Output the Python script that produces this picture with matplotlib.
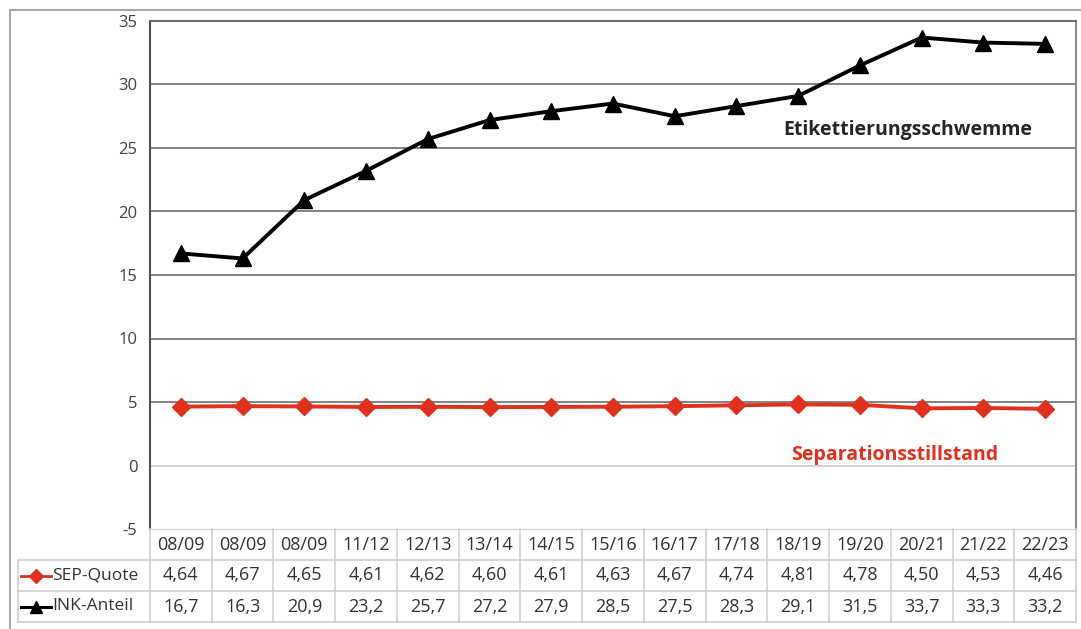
import matplotlib
matplotlib.use("Agg")
import matplotlib.pyplot as plt
from matplotlib.patches import Rectangle

plt.rcParams['font.family'] = ['Open Sans', 'DejaVu Sans']
plt.rcParams['axes.unicode_minus'] = False

# Saisons (Tabellenkopf) und Werte
seasons = ["08/09", "08/09", "08/09", "11/12", "12/13", "13/14", "14/15", "15/16",
           "16/17", "17/18", "18/19", "19/20", "20/21", "21/22", "22/23"]
sep_quote = [4.64, 4.67, 4.65, 4.61, 4.62, 4.60, 4.61, 4.63, 4.67, 4.74, 4.81, 4.78, 4.50, 4.53, 4.46]
ink_anteil = [16.7, 16.3, 20.9, 23.2, 25.7, 27.2, 27.9, 28.5, 27.5, 28.3, 29.1, 31.5, 33.7, 33.3, 33.2]
row_labels = ["SEP-Quote", "INK-Anteil"]
yticks = [-5, 0, 5, 10, 15, 20, 25, 30, 35]

RED = "#E0301E"
TXT = "#333333"
W, H = 1081, 629

def fx(px):
    return px / W

def fy(py):
    return 1 - py / H

fig = plt.figure(figsize=(W / 100, H / 100), dpi=100)

# äußerer Rahmen
fig.patches.append(Rectangle((fx(10), -0.02), 1.05, fy(10) + 0.02, transform=fig.transFigure,
                             fill=False, edgecolor="#a6a6a6", lw=1.5))

left, right, top, bottom = 150, 1076, 21, 529
ax = fig.add_axes([fx(left), fy(bottom), (right - left) / W, (bottom - top) / H])
x = list(range(len(seasons)))

for yv in yticks[1:-1]:
    ax.axhline(yv, color="#c8c8c8" if yv == 0 else "#6e6e6e", lw=1.2, zorder=1)

ax.plot(x, ink_anteil, color="black", lw=2.8, marker="^", markersize=12, zorder=3)
ax.plot(x, sep_quote, color=RED, lw=2.8, marker="D", markersize=9, zorder=3)

ax.set_xlim(-0.5, len(seasons) - 0.5)
ax.set_ylim(-5, 35)
ax.set_yticks(yticks)
ax.set_xticks([])
ax.tick_params(axis="y", length=0, pad=9, labelsize=12, labelcolor="#404040")
ax.spines["left"].set_color("#505050")
ax.spines["left"].set_linewidth(1.5)
ax.spines["top"].set_color("#6e6e6e")
ax.spines["top"].set_linewidth(1.5)
ax.spines["right"].set_color("#8a8a8a")
ax.spines["right"].set_linewidth(1.5)
ax.spines["bottom"].set_color("#d0d0d0")

ax.text(11.77, 26.4, "Etikettierungsschwemme", ha="center", va="center",
        fontsize=14, fontweight="bold", color="#262626")
ax.text(11.56, 0.85, "Separationsstillstand", ha="center", va="center",
        fontsize=14, fontweight="bold", color=RED)

# Datentabelle unter dem Diagramm
tbl_bottom = 622
tax = fig.add_axes([fx(left), fy(tbl_bottom), (right - left) / W, (tbl_bottom - bottom) / H])
tax.set_xlim(-0.5, len(seasons) - 0.5)
tax.set_ylim(3, 0)
tax.axis("off")
unit = (right - left) / len(seasons)
xl = -0.5 - (left - 18) / unit
grid_c = "#cfcfcf"

for i in range(len(seasons) + 1):
    tax.plot([i - 0.5, i - 0.5], [0, 3], color=grid_c, lw=1.2, clip_on=False)
tax.plot([xl, xl], [1, 3], color=grid_c, lw=1.2, clip_on=False)
for r in (1, 2, 3):
    tax.plot([xl, len(seasons) - 0.5], [r, r], color=grid_c, lw=1.2, clip_on=False)

fs = 13
for i, s in enumerate(seasons):
    tax.text(i, 0.5, s, ha="center", va="center", fontsize=fs, color=TXT)
    tax.text(i, 1.5, f"{sep_quote[i]:.2f}".replace(".", ","), ha="center", va="center",
             fontsize=fs, color=TXT)
    tax.text(i, 2.5, f"{ink_anteil[i]:.1f}".replace(".", ","), ha="center", va="center",
             fontsize=fs, color=TXT)

# Legendensymbole in der Beschriftungsspalte
g0 = xl + 3 / unit
g1 = xl + 33 / unit
gm = (g0 + g1) / 2
tax.plot([g0, g1], [1.5, 1.5], color=RED, lw=2, clip_on=False)
tax.plot([gm], [1.5], color=RED, marker="D", markersize=7, clip_on=False)
tax.plot([g0, g1], [2.5, 2.5], color="black", lw=2.2, clip_on=False)
tax.plot([gm], [2.5], color="black", marker="^", markersize=9, clip_on=False)
for r, lab in enumerate(row_labels):
    tax.text(g1 + 1 / unit, 1.5 + r, lab, ha="left", va="center", fontsize=fs - 0.5, color=TXT)

fig.savefig("out.png", dpi=100)
